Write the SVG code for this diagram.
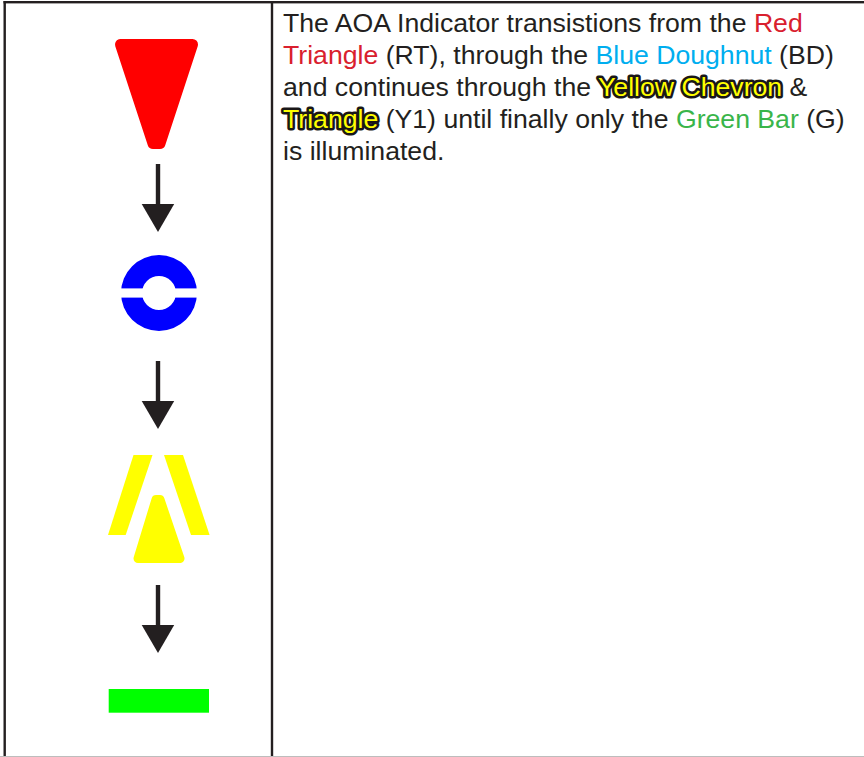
<svg xmlns="http://www.w3.org/2000/svg" width="864" height="757" viewBox="0 0 864 757">
  <style>
    .t { font-family: "Liberation Sans", Arial, sans-serif; font-size: 26.65px; fill: #231f20; }
    .red { fill: #d9202e; }
    .blue { fill: #00aeef; }
    .green { fill: #39b54a; }
    .hl { fill: #ffff00; stroke: #1a1718; stroke-width: 5.2px; paint-order: stroke; stroke-linejoin: round; }
    .rule { fill: #231f20; }
  </style>
  <defs>
    <g id="arrow"><rect x="155.8" y="0" width="4.4" height="42" fill="#231f20"/><polygon points="141.7,40 174.2,40 158,68" fill="#231f20"/></g>
  </defs>
  <rect width="864" height="757" fill="#ffffff"/>
  <g id="table">
    <rect class="rule" x="3.5" y="1" width="860.5" height="2.4"/>
    <rect class="rule" x="3.5" y="1" width="2.4" height="756"/>
    <rect class="rule" x="270.8" y="1" width="2.4" height="756"/>
    <rect x="0" y="756" width="864" height="1" fill="#bdbdbd"/>
  </g>
  <g id="red-triangle"><polygon points="120.5,44.5 192.5,44.5 160,143.5 153,143.5" fill="#ff0000" stroke="#ff0000" stroke-width="11" stroke-linejoin="round"/></g>
  <g id="blue-doughnut">
    <path fill-rule="evenodd" d="M121,293a38,38 0 1 0 76,0a38,38 0 1 0 -76,0zM142,293a17,17 0 1 1 34,0a17,17 0 1 1 -34,0z" fill="#0000ff"/>
    <rect x="120" y="288.4" width="78" height="9.2" fill="#ffffff"/>
  </g>
  <g id="yellow-chevron">
    <polygon points="133.5,455 152.5,455 125.7,535 108,535" fill="#ffff00"/>
    <polygon points="164,455 183,455 209.6,535 191,535" fill="#ffff00"/>
  </g>
  <g id="yellow-triangle"><polygon points="156,499.5 160,499.5 180,558.5 138,558.5" fill="#ffff00" stroke="#ffff00" stroke-width="9" stroke-linejoin="round"/></g>
  <g id="green-bar"><rect x="108.7" y="689" width="100.3" height="23.7" fill="#00ff00"/></g>
  <g id="connectors">
    <use href="#arrow" y="164"/>
    <use href="#arrow" y="361"/>
    <use href="#arrow" y="585"/>
  </g>
  <g id="label">
    <text class="t" x="283" y="32">The AOA Indicator transistions from the <tspan class="red">Red</tspan></text>
    <text class="t" x="283" y="64"><tspan class="red">Triangle</tspan> (RT), through the <tspan class="blue">Blue Doughnut</tspan> (BD)</text>
    <text class="t" x="283" y="96">and continues through the <tspan class="hl">Yellow Chevron</tspan> &amp;</text>
    <text class="t" x="283" y="128"><tspan class="hl">Triangle</tspan> (Y1) until finally only the <tspan class="green">Green Bar</tspan> (G)</text>
    <text class="t" x="283" y="160">is illuminated.</text>
  </g>
</svg>
